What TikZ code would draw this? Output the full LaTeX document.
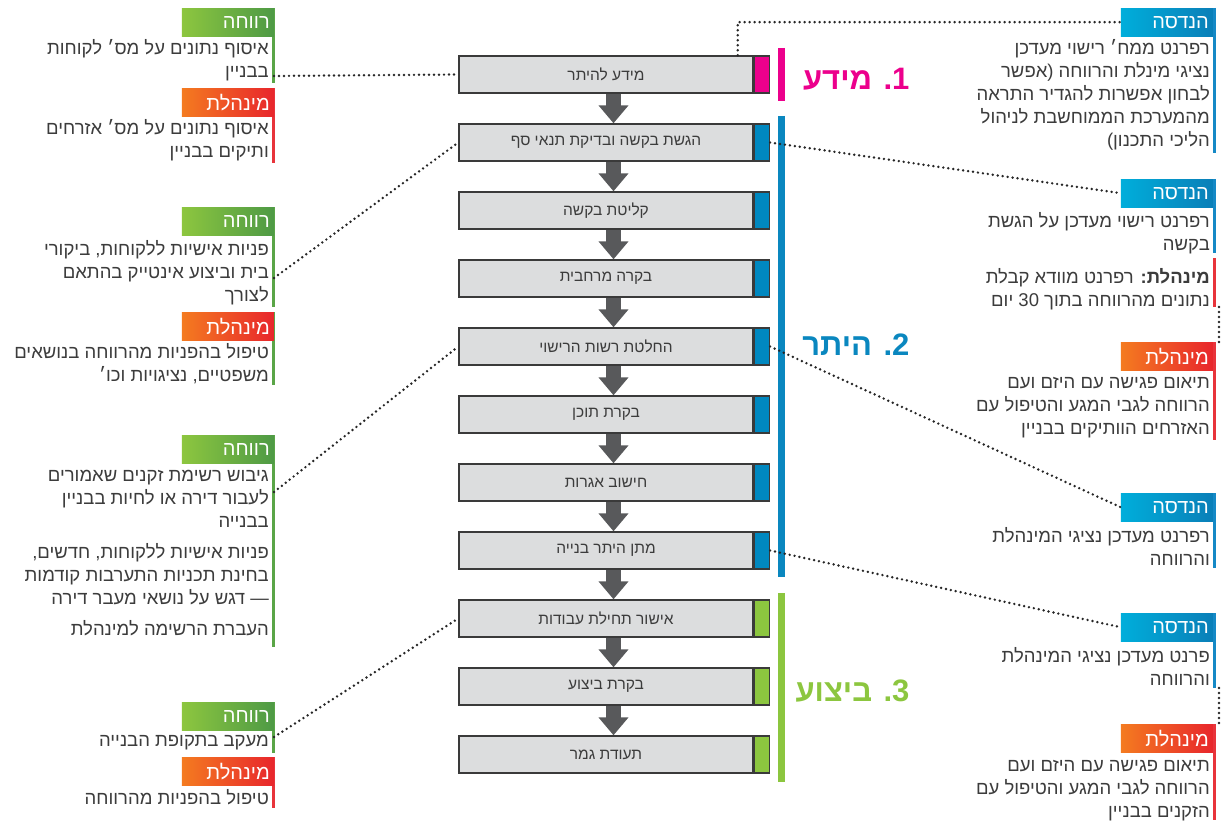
\documentclass[tikz,border=0pt]{standalone}
\usepackage{fontspec}
\setmainfont{Liberation Sans}
\newfontfamily\hebfont[Script=Hebrew]{Liberation Sans}
\usetikzlibrary{arrows.meta,positioning}
\TeXXeTstate=1
\newcommand{\rl}[1]{\beginR#1\endR}
\definecolor{pinkc}{HTML}{EC008C}
\definecolor{phaseblue}{HTML}{0A87BF}
\definecolor{phasegreen}{HTML}{8CC63F}
\definecolor{tabblue}{HTML}{0088C0}
\definecolor{arrowgray}{HTML}{58595B}
\definecolor{boxfill}{HTML}{DCDDDE}
\definecolor{boxline}{HTML}{3A3A3A}
\definecolor{textgray}{HTML}{3C3C3C}
\definecolor{dotgray}{HTML}{262626}
\definecolor{wfA}{HTML}{8DC63F}
\definecolor{wfB}{HTML}{4E9A45}
\definecolor{wfline}{HTML}{5AA547}
\definecolor{adA}{HTML}{F47B20}
\definecolor{adB}{HTML}{E8262C}
\definecolor{adline}{HTML}{E8343B}
\definecolor{enA}{HTML}{00AEDB}
\definecolor{enB}{HTML}{0A7FB8}
\definecolor{enline}{HTML}{1589C6}

\begin{document}
\begin{tikzpicture}[x=1pt, y=-1pt,
  stepbox/.style={draw=boxline, fill=boxfill, line width=1.4pt, minimum width=294pt, minimum height=37pt, inner sep=0pt, font=\hebfont\fontsize{15.5}{18}\selectfont, text=textgray},
  tabbox/.style={draw=boxline, line width=1.4pt, minimum width=15pt, minimum height=37pt, inner sep=0pt},
  flow/.style={line width=15pt, draw=arrowgray, -{Triangle[width=29pt,length=18pt]}},
  dots/.style={line width=2.7pt, dash pattern=on 0pt off 5pt, line cap=round, draw=dotgray},
  tag/.style={anchor=north east, minimum height=28pt, inner xsep=4pt, inner ysep=0pt, text width=84pt, align=right, text=white, font=\hebfont\fontsize{20}{22}\selectfont},
  welfare/.style={tag, left color=wfA, right color=wfB},
  admin/.style={tag, left color=adA, right color=adB},
  eng/.style={tag, left color=enA, right color=enB},
  note/.style={anchor=north east, align=right, inner sep=0pt, text=textgray, font=\hebfont\fontsize{18.5}{23}\selectfont},
  bar/.style={line width=7pt},
  side/.style={line width=2.6pt},
  phase/.style={anchor=east, font=\hebfont\bfseries\fontsize{31}{36}\selectfont}
]
\useasboundingbox (0,0) rectangle (1223,824);

% steps
\node[stepbox] (b1) at (606,74.5) {\rl{מידע להיתר}};
\node[tabbox, fill=pinkc, right=0pt of b1] (t1) {};
\node[stepbox, below=29.6pt of b1] (b2) {\rl{הגשת בקשה ובדיקת תנאי סף}};
\node[tabbox, fill=tabblue, right=0pt of b2] (t2) {};
\node[stepbox, below=29.6pt of b2] (b3) {\rl{קליטת בקשה}};
\node[tabbox, fill=tabblue, right=0pt of b3] (t3) {};
\node[stepbox, below=29.6pt of b3] (b4) {\rl{בקרה מרחבית}};
\node[tabbox, fill=tabblue, right=0pt of b4] (t4) {};
\node[stepbox, below=29.6pt of b4] (b5) {\rl{החלטת רשות הרישוי}};
\node[tabbox, fill=tabblue, right=0pt of b5] (t5) {};
\node[stepbox, below=29.6pt of b5] (b6) {\rl{בקרת תוכן}};
\node[tabbox, fill=tabblue, right=0pt of b6] (t6) {};
\node[stepbox, below=29.6pt of b6] (b7) {\rl{חישוב אגרות}};
\node[tabbox, fill=tabblue, right=0pt of b7] (t7) {};
\node[stepbox, below=29.6pt of b7] (b8) {\rl{מתן היתר בנייה}};
\node[tabbox, fill=tabblue, right=0pt of b8] (t8) {};
\node[stepbox, below=29.6pt of b8] (b9) {\rl{אישור תחילת עבודות}};
\node[tabbox, fill=phasegreen, right=0pt of b9] (t9) {};
\node[stepbox, below=29.6pt of b9] (b10) {\rl{בקרת ביצוע}};
\node[tabbox, fill=phasegreen, right=0pt of b10] (t10) {};
\node[stepbox, below=29.6pt of b10] (b11) {\rl{תעודת גמר}};
\node[tabbox, fill=phasegreen, right=0pt of b11] (t11) {};
\foreach \a/\b in {b1/b2,b2/b3,b3/b4,b4/b5,b5/b6,b6/b7,b7/b8,b8/b9,b9/b10,b10/b11}
  \draw[flow] ([xshift=7.5pt]\a.south) -- ([xshift=7.5pt]\b.north);

% phases
\draw[bar, pinkc] (781.5,48) -- (781.5,101);
\draw[bar, phaseblue] (781.5,116) -- (781.5,577);
\draw[bar, phasegreen] (781.5,593) -- (781.5,782);
\node[phase, text=pinkc] (p1) at (913,79) {\rl{1. מידע}};
\node[phase, text=phaseblue] (p2) at (913,345) {\rl{2. היתר}};
\node[phase, text=phasegreen] (p3) at (913,691) {\rl{3. ביצוע}};

% left side
\draw[side, wfline] (273.7,8) -- (273.7,83);
\draw[side, adline] (273.7,88) -- (273.7,163);
\draw[side, wfline] (273.7,207) -- (273.7,307);
\draw[side, wfline] (273.7,312) -- (273.7,385);
\draw[side, wfline] (273.7,435) -- (273.7,647);
\draw[side, wfline] (273.7,702) -- (273.7,753);
\draw[side, adline] (273.7,757) -- (273.7,808);
\node[welfare] (wf1) at (274,8) {\rl{רווחה}};
\node[note] (wn1) at (269,39) {\rl{איסוף נתונים על מס׳ לקוחות}\\\rl{בבניין}};
\node[admin] (ad1) at (274,88) {\rl{מינהלת}};
\node[note] (an1) at (269,119) {\rl{איסוף נתונים על מס׳ אזרחים}\\\rl{ותיקים בבניין}};
\node[welfare] (wf2) at (274,207) {\rl{רווחה}};
\node[note] (wn2) at (269,240) {\rl{פניות אישיות ללקוחות, ביקורי}\\\rl{בית וביצוע אינטייק בהתאם}\\\rl{לצורך}};
\node[admin] (ad2) at (274,312) {\rl{מינהלת}};
\node[note] (an2) at (269,343) {\rl{טיפול בהפניות מהרווחה בנושאים}\\\rl{משפטיים, נציגויות וכו׳}};
\node[welfare] (wf3) at (274,435) {\rl{רווחה}};
\node[note] (wn3) at (269,470) {\rl{גיבוש רשימת זקנים שאמורים}\\\rl{לעבור דירה או לחיות בבניין}\\\rl{בבנייה}\\[8pt]\rl{פניות אישיות ללקוחות, חדשים,}\\\rl{בחינת תכניות התערבות קודמות}\\\rl{— דגש על נושאי מעבר דירה}\\[8pt]\rl{העברת הרשימה למינהלת}};
\node[welfare] (wf4) at (274,702) {\rl{רווחה}};
\node[note] (wn4) at (269,735) {\rl{מעקב בתקופת הבנייה}};
\node[admin] (ad4) at (274,757) {\rl{מינהלת}};
\node[note] (an4) at (269,789) {\rl{טיפול בהפניות מהרווחה}};

% right side
\draw[side, enline] (1214.5,8) -- (1214.5,153);
\draw[side, enline] (1214.5,179) -- (1214.5,253);
\draw[side, adline] (1214.5,258) -- (1214.5,307);
\draw[side, adline] (1214.5,342) -- (1214.5,440);
\draw[side, enline] (1214.5,493) -- (1214.5,568);
\draw[side, enline] (1214.5,613) -- (1214.5,688);
\draw[side, adline] (1214.5,724) -- (1214.5,820);
\node[eng] (en1) at (1213,8) {\rl{הנדסה}};
\node[note] (en1n) at (1210,39) {\rl{רפרנט ממח׳ רישוי מעדכן}\\\rl{נציגי מינלת והרווחה (אפשר}\\\rl{לבחון אפשרות להגדיר התראה}\\\rl{מהמערכת הממוחשבת לניהול}\\\rl{הליכי התכנון)}};
\node[eng] (en2) at (1213,179) {\rl{הנדסה}};
\node[note] (en2n) at (1210,212) {\rl{רפרנט רישוי מעדכן על הגשת}\\\rl{בקשה}};
\node[note] (ad3n) at (1210,268) {\rl{{\bfseries מינהלת:} רפרנט מוודא קבלת}\\\rl{נתונים מהרווחה בתוך 30 יום}};
\node[admin] (ad5) at (1213,342) {\rl{מינהלת}};
\node[note] (ad5n) at (1210,377) {\rl{תיאום פגישה עם היזם ועם}\\\rl{הרווחה לגבי המגע והטיפול עם}\\\rl{האזרחים הוותיקים בבניין}};
\node[eng] (en3) at (1213,493) {\rl{הנדסה}};
\node[note] (en3n) at (1210,527) {\rl{רפרנט מעדכן נציגי המינהלת}\\\rl{והרווחה}};
\node[eng] (en4) at (1213,613) {\rl{הנדסה}};
\node[note] (en4n) at (1210,647) {\rl{פרנט מעדכן נציגי המינהלת}\\\rl{והרווחה}};
\node[admin] (ad6) at (1213,724) {\rl{מינהלת}};
\node[note] (ad6n) at (1210,760) {\rl{תיאום פגישה עם היזם ועם}\\\rl{הרווחה לגבי המגע והטיפול עם}\\\rl{הזקנים בבניין}};

% connectors
\coordinate (w1) at (274,76);
\coordinate (w2) at (274,278);
\coordinate (w3) at (274,492);
\coordinate (w4) at (274,737);
\draw[dots] (w1) -- (b1.west);
\draw[dots] (w2) -- (b2.west);
\draw[dots] (w3) -- (b5.west);
\draw[dots] (w4) -- (b9.west);
\draw[dots] ([xshift=-16pt]b1.north east) |- (en1.west);
\draw[dots] (t2.east) -- (en2.west);
\draw[dots] (t5.east) -- (en3.west);
\draw[dots] (t8.east) -- (en4.west);
\coordinate (r1) at (1219,307);
\coordinate (r2) at (1219,688);
\draw[dots] (r1) -- (r1 |- ad5.north);
\draw[dots] (r2) -- (r2 |- ad6.north);
\end{tikzpicture}
\end{document}
